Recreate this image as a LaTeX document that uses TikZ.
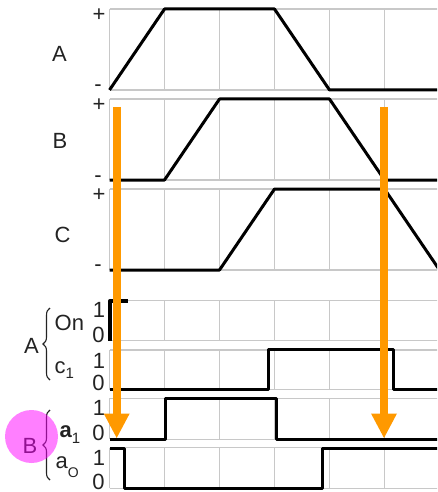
\documentclass[tikz,border=0pt]{standalone}
\usepackage{fontspec}
\setmainfont{Liberation Sans}
\usetikzlibrary{arrows.meta,decorations.pathreplacing}
\definecolor{gridgray}{RGB}{200,200,200}
\definecolor{arroworange}{RGB}{255,153,0}
\definecolor{txt}{RGB}{35,35,35}
\definecolor{hilite}{RGB}{255,0,255}
\begin{document}
\begin{tikzpicture}[x=1pt,y=-1pt,
  gridline/.style={draw=gridgray,line width=1.2pt},
  wave/.style={draw=black,line width=3pt,line join=round},
  lbl/.style={font=\fontsize{22}{22}\selectfont,text=txt,inner sep=0pt,anchor=base},
  lblw/.style={lbl,anchor=base west},
  bracestyle/.style={draw=txt,line width=1.1pt,decorate,decoration={brace,amplitude=7pt}},
  orangearrow/.style={draw=arroworange,line width=8pt,-{Triangle[length=25pt,width=24pt]}},
  hl/.style={circle,fill=hilite,fill opacity=0.5,inner sep=0pt,minimum size=53pt}
]
\useasboundingbox (0,0) rectangle (437,492);
\begin{scope}
\clip (0,0) rectangle (437,492);
% grids
\foreach \t/\b in {9/90,99/180,189/270,300.7/340.7,350/389.5,398.3/439.3,447.7/488.3}{
  \draw[gridline] (109.5,\t) -- (445,\t) (109.5,\b) -- (445,\b);
  \foreach \x in {109.5,164.5,219.5,274.5,329.5,384.5,439.5}{
    \draw[gridline] (\x,\t) -- (\x,\b);
  }
}
% analog waves
\draw[wave] (109.5,90) -- (164.5,9) -- (274.5,9) -- (329.5,90) -- (445,90);
\draw[wave] (109.5,180) -- (164.5,180) -- (219.5,99) -- (329.5,99) -- (384.5,180) -- (445,180);
\draw[wave] (109.5,270) -- (219.5,270) -- (274.5,189) -- (384.5,189) -- (439.5,270);
% digital waves
\draw[wave,line width=4pt] (110,340.7) -- (110,300.9) -- (128,300.9);
\draw[wave] (110,389.3) -- (268,389.3) -- (268,349.7) -- (393,349.7) -- (393,389.3) -- (445,389.3);
\draw[wave] (110,439.3) -- (165,439.3) -- (165,398.5) -- (276,398.5) -- (276,439.3) -- (445,439.3);
\draw[wave] (110,448) -- (124,448) -- (124,488.3) -- (322.5,488.3) -- (322.5,448) -- (445,448);
\end{scope}
% labels analog
\node[lbl] (tA) at (59.5,62) {A};
\node[lbl] (tB) at (60,148) {B};
\node[lbl] (tC) at (62.5,242) {C};
\node[lbl] (pA) at (99,21.8) {+};
\node[lbl] (mA) at (98,91.8) {-};
\node[lbl] (pB) at (99,111.8) {+};
\node[lbl] (mB) at (98,182) {-};
\node[lbl] (pC) at (99,201.3) {+};
\node[lbl] (mC) at (98,271.8) {-};
% digit labels
\node[lbl] (on1) at (99,317) {1};
\node[lbl] (on0) at (98.5,342) {0};
\node[lbl] (c11) at (99,368) {1};
\node[lbl] (c10) at (98.5,390) {0};
\node[lbl] (a11) at (99,415) {1};
\node[lbl] (a10) at (98.5,440) {0};
\node[lbl] (a01) at (99,465) {1};
\node[lbl] (a00) at (98.5,489) {0};
% signal names
\node[lblw] (tOn) at (54.5,330) {On};
\node[lblw] (tc1) at (54.5,373) {c\raisebox{-5pt}{\fontsize{15}{15}\selectfont 1}};
\node[lblw] (ta1) at (59.5,437) {\bfseries a\raisebox{-6pt}{\fontsize{15}{15}\selectfont\mdseries 1}};
\node[lblw] (ta0) at (55.5,468) {a\raisebox{-9pt}{\fontsize{14}{14}\selectfont O}};
\node[lbl] (gA) at (31.5,353) {A};
\node[lbl] (gB) at (30,453) {B};
% braces
\draw[bracestyle] (50,380) -- (50,308);
\draw[bracestyle] (50,480) -- (50,410);
% highlight
\node[hl] (hlB) at (31.5,436.5) {};
% orange arrows
\coordinate (l1) at (116.7,107);
\coordinate (l2) at (116.7,438.5);
\coordinate (r1) at (384,107);
\coordinate (r2) at (384,438.5);
\draw[orangearrow] (l1) -- (l2);
\draw[orangearrow] (r1) -- (r2);
\end{tikzpicture}
\end{document}
